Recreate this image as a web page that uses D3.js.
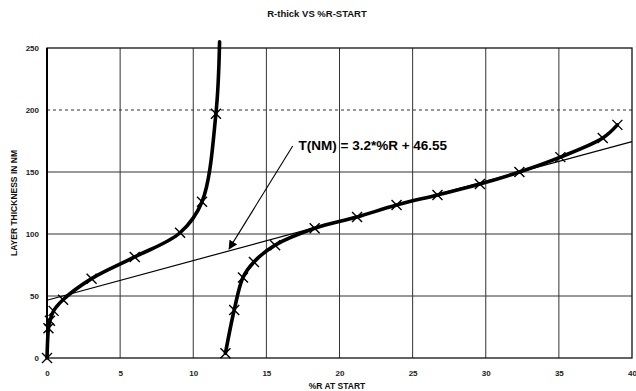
<!DOCTYPE html>
<html>
<head>
<meta charset="utf-8">
<script src="https://cdn.jsdelivr.net/npm/d3@7"></script>
<style>
  html, body { margin: 0; padding: 0; background: #fff; }
  svg { display: block; font-family: "Liberation Sans", Arial, sans-serif; }
</style>
</head>
<body>
<div id="chart"></div>
<script>
// left curve (%R at start, thickness nm)
const leftX = [0, 0.1, 0.2, 0.45, 1.1, 3.05, 6.0, 9.1, 10.6, 11.55, 11.8];
const leftY = [0, 24, 30, 38, 47, 64, 81.5, 101, 126, 197, 255];
const leftMarked = [true, true, true, true, true, true, true, true, true, true, false];

// right curve
const rightX = [12.2, 12.8, 13.4, 14.15, 15.6, 18.3, 21.2, 23.9, 26.7, 29.6, 32.3, 35.1, 38.0, 39.0];
const rightY = [3.8, 38.7, 65, 77.5, 91, 104.6, 113.7, 123.4, 131.5, 140.3, 150, 162, 177.4, 188];

// linear fit T(NM) = 3.2*%R + 46.55
const fitSlope = 3.2;
const fitIntercept = 46.55;
const fitRange = [0, 40];

const xTicks = [0, 5, 10, 15, 20, 25, 30, 35, 40];
const yTicks = [0, 50, 100, 150, 200, 250];

const title = "R-thick VS %R-START";
const xTitle = "%R AT START";
const yTitle = "LAYER THICKNESS IN NM";
const fitLabel = "T(NM) = 3.2*%R + 46.55";

const width = 636, height = 391;
const margin = { top: 48, right: 4, bottom: 33, left: 47 };

const svg = d3.select('#chart').append('svg')
  .attr('width', width)
  .attr('height', height);

const x = d3.scaleLinear().domain([0, 40]).range([margin.left, width - margin.right]);
const y = d3.scaleLinear().domain([0, 250]).range([height - margin.bottom, margin.top]);

// gridlines
svg.append('g')
  .selectAll('line')
  .data(xTicks.slice(1, -1))
  .join('line')
  .attr('x1', d => x(d)).attr('x2', d => x(d))
  .attr('y1', y(250)).attr('y2', y(0))
  .attr('stroke', '#333')
  .attr('stroke-width', 1);

svg.append('g')
  .selectAll('line')
  .data(yTicks.slice(1, -1))
  .join('line')
  .attr('x1', x(0)).attr('x2', x(40))
  .attr('y1', d => y(d)).attr('y2', d => y(d))
  .attr('stroke', '#333')
  .attr('stroke-width', 1)
  .attr('stroke-dasharray', d => d === 200 ? '3,3' : null);

// plot frame
svg.append('rect')
  .attr('x', x(0)).attr('y', y(250))
  .attr('width', x(40) - x(0)).attr('height', y(0) - y(250))
  .attr('fill', 'none')
  .attr('stroke', '#111')
  .attr('stroke-width', 1.3);

svg.append('line')
  .attr('x1', x(0)).attr('x2', x(0))
  .attr('y1', y(250)).attr('y2', y(0))
  .attr('stroke', '#000').attr('stroke-width', 2);

// axis labels
const yAxis = d3.axisLeft(y).tickValues(yTicks).tickSize(0).tickPadding(8);
svg.append('g')
  .attr('transform', `translate(${x(0)},0)`)
  .call(yAxis)
  .call(g => g.select('.domain').remove())
  .call(g => g.selectAll('text')
    .attr('font-size', 8).attr('font-weight', 'bold').attr('fill', '#222')
    .attr('font-family', '"Liberation Sans", Arial, sans-serif'));

const xAxis = d3.axisBottom(x).tickValues(xTicks).tickSize(0).tickPadding(12);
svg.append('g')
  .attr('transform', `translate(0,${y(0)})`)
  .call(xAxis)
  .call(g => g.select('.domain').remove())
  .call(g => g.selectAll('text')
    .attr('font-size', 8).attr('font-weight', 'bold').attr('fill', '#222')
    .attr('font-family', '"Liberation Sans", Arial, sans-serif'));

// titles
svg.append('text')
  .attr('x', 317).attr('y', 17)
  .attr('text-anchor', 'middle')
  .attr('font-size', 9.5).attr('font-weight', 'bold')
  .attr('fill', '#111')
  .text(title);

svg.append('text')
  .attr('x', 337).attr('y', 389)
  .attr('text-anchor', 'middle')
  .attr('font-size', 8.5).attr('font-weight', 'bold')
  .attr('fill', '#111')
  .text(xTitle);

svg.append('text')
  .attr('transform', `translate(17,${(y(0) + y(250)) / 2}) rotate(-90)`)
  .attr('text-anchor', 'middle')
  .attr('font-size', 8.5).attr('font-weight', 'bold')
  .attr('fill', '#111')
  .text(yTitle);

// fit line
svg.append('line')
  .attr('x1', x(fitRange[0])).attr('y1', y(fitSlope * fitRange[0] + fitIntercept))
  .attr('x2', x(fitRange[1])).attr('y2', y(fitSlope * fitRange[1] + fitIntercept))
  .attr('stroke', '#000')
  .attr('stroke-width', 1.2);

// curves
const line = d3.line()
  .x(d => x(d[0]))
  .y(d => y(d[1]))
  .curve(d3.curveCatmullRom.alpha(0.5));

const leftData = leftX.map((v, i) => [v, leftY[i]]);
const rightData = rightX.map((v, i) => [v, rightY[i]]);

[leftData, rightData].forEach(data => {
  svg.append('path')
    .datum(data)
    .attr('fill', 'none')
    .attr('stroke', '#000')
    .attr('stroke-width', 3.6)
    .attr('stroke-linejoin', 'round')
    .attr('stroke-linecap', 'round')
    .attr('d', line);
});

// X markers
const markers = leftData.filter((d, i) => leftMarked[i]).concat(rightData);
const m = 5;
svg.append('g')
  .selectAll('path')
  .data(markers)
  .join('path')
  .attr('d', d => {
    const cx = x(d[0]), cy = y(d[1]);
    return `M${cx - m},${cy - m}L${cx + m},${cy + m}M${cx - m},${cy + m}L${cx + m},${cy - m}`;
  })
  .attr('stroke', '#000')
  .attr('stroke-width', 1.4)
  .attr('fill', 'none');

// annotation with arrow
const defs = svg.append('defs');
defs.append('marker')
  .attr('id', 'arrowhead')
  .attr('viewBox', '0 0 10 10')
  .attr('refX', 9).attr('refY', 5)
  .attr('markerWidth', 9).attr('markerHeight', 9)
  .attr('markerUnits', 'userSpaceOnUse')
  .attr('orient', 'auto')
  .append('path')
  .attr('d', 'M0,0L10,5L0,10Z')
  .attr('fill', '#000');

const arrowStart = [16.8, 171];
const arrowEnd = [12.45, 88];
svg.append('line')
  .attr('x1', x(arrowStart[0])).attr('y1', y(arrowStart[1]))
  .attr('x2', x(arrowEnd[0])).attr('y2', y(arrowEnd[1]))
  .attr('stroke', '#000')
  .attr('stroke-width', 1.1)
  .attr('marker-end', 'url(#arrowhead)');

svg.append('text')
  .attr('x', x(17.2)).attr('y', y(168))
  .attr('font-size', 13.5).attr('font-weight', 'bold')
  .attr('fill', '#000')
  .text(fitLabel);
</script>
</body>
</html>
